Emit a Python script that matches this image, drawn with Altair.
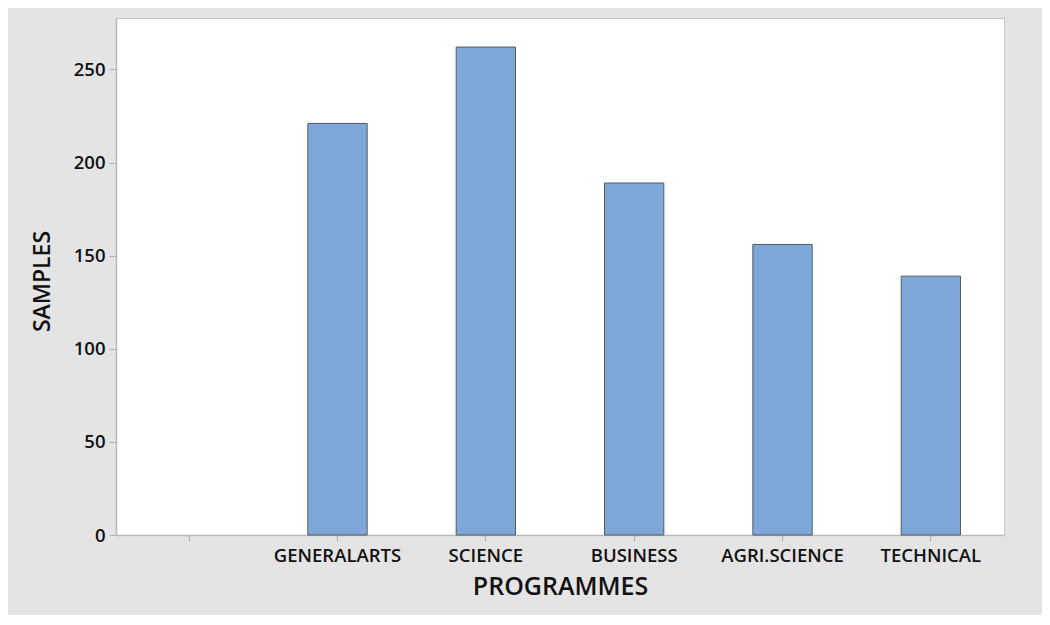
import altair as alt
import pandas as pd

categories = ["GENERALARTS", "SCIENCE", "BUSINESS", "AGRI.SCIENCE", "TECHNICAL"]
samples = [221, 262, 189, 156, 139]
axis_domain = [" "] + categories
y_ticks = [0, 50, 100, 150, 200, 250]

df = pd.DataFrame({"PROGRAMMES": categories, "SAMPLES": samples})

FONT = "Open Sans"

chart = (
    alt.Chart(df)
    .mark_bar(color="#7DA7D9", stroke="#555a60", strokeWidth=1)
    .encode(
        x=alt.X(
            "PROGRAMMES:N",
            sort=axis_domain,
            scale=alt.Scale(domain=axis_domain, paddingInner=0.6, paddingOuter=0.293),
            axis=alt.Axis(
                title="PROGRAMMES",
                labelAngle=0,
                labelFont=FONT,
                labelFontSize=18.5,
                labelFontWeight=600,
                labelColor="#111111",
                labelPadding=5,
                tickSize=6,
                tickColor="#b0b0b0",
                domainColor="#b8b8b8",
                domainWidth=1.5,
                titleFont=FONT,
                titleFontSize=25,
                titleFontWeight=600,
                titleColor="#111111",
                titlePadding=10,
            ),
        ),
        y=alt.Y(
            "SAMPLES:Q",
            scale=alt.Scale(domain=[0, 277.6], nice=False, zero=True),
            axis=alt.Axis(
                title="SAMPLES",
                values=y_ticks,
                grid=False,
                labelFont=FONT,
                labelFontSize=18.5,
                labelFontWeight=600,
                labelColor="#111111",
                labelPadding=4,
                tickSize=7,
                tickColor="#b0b0b0",
                domainColor="#b8b8b8",
                domainWidth=1.5,
                titleFont=FONT,
                titleFontSize=23,
                titleFontWeight=600,
                titleColor="#111111",
                titleX=-74,
                titleY=263,
                titleAlign="center",
                titleBaseline="middle",
            ),
        ),
    )
    .properties(
        width=888,
        height=517,
        background="#e4e4e4",
        padding={"left": 108, "top": 10, "right": 38, "bottom": 80},
        autosize=alt.AutoSizeParams(type="none"),
    )
    .configure_view(stroke="#c4c4c4", strokeWidth=1, fill="white")
)

chart.save("out.html", embed_options={"renderer": "svg", "actions": False})
